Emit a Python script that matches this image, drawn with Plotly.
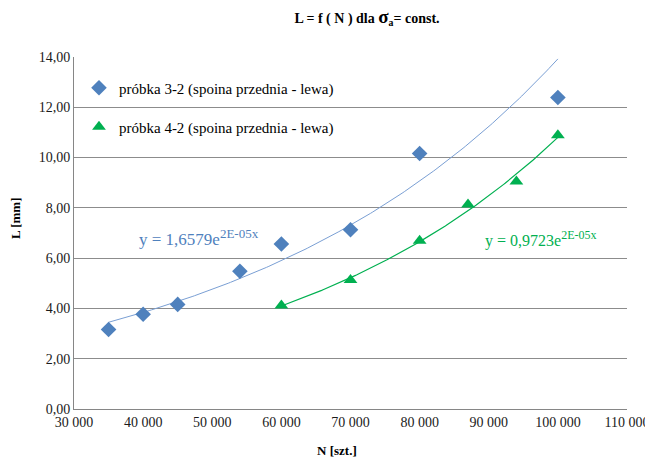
import numpy as np
import plotly.graph_objects as go

# ---- data ----
n_blue = [35000, 40000, 45000, 54000, 60000, 70000, 80000, 100000]
l_blue = [3.16, 3.77, 4.16, 5.48, 6.56, 7.13, 10.16, 12.39]
n_green = [60000, 70000, 80000, 87000, 94000, 100000]
l_green = [4.12, 5.13, 6.69, 8.13, 9.05, 10.89]
name_blue = "próbka 3-2 (spoina przednia - lewa)"
name_green = "próbka 4-2 (spoina przednia - lewa)"
eq_blue = "y = 1,6579e<sup><span style='font-size:13px'>2E-05x</span></sup>"
eq_green = "y = 0,9723e<sup><span style='font-size:12px'>2E-05x</span></sup>"

BLUE = "#4F81BD"
GREEN = "#00B050"
FONT = "Liberation Serif"

# page body has an 8px margin; figure is sized/placed to compensate
W, H = 645, 451
OFF = 8


def exp_trend(xs, ys):
    b, ln_a = np.polyfit(np.array(xs, float), np.log(np.array(ys, float)), 1)
    xx = np.linspace(min(xs), max(xs), 200)
    return xx, np.exp(ln_a) * np.exp(b * xx)


fig = go.Figure()
tx, ty = exp_trend(n_blue, l_blue)
fig.add_trace(go.Scatter(x=tx, y=ty, mode="lines", line=dict(color="#7A9FD4", width=1),
                         showlegend=False, hoverinfo="skip"))
tx, ty = exp_trend(n_green, l_green)
fig.add_trace(go.Scatter(x=tx, y=ty, mode="lines", line=dict(color=GREEN, width=1.2),
                         showlegend=False, hoverinfo="skip"))
fig.add_trace(go.Scatter(x=n_blue, y=l_blue, mode="markers", name=name_blue,
                         marker=dict(symbol="diamond", size=12, color=BLUE), legend="legend"))
fig.add_trace(go.Scatter(x=n_green, y=l_green, mode="markers", name=name_green,
                         marker=dict(symbol="triangle-up", size=12, color=GREEN), legend="legend2"))

fig.update_layout(
    width=W, height=H,
    margin=dict(l=74 - OFF, r=26, t=57 - OFF, b=50),
    paper_bgcolor="white", plot_bgcolor="white",
    separators=", ",
    font=dict(family=FONT, size=13, color="#1a1a1a"),
    title=dict(
        text="<b>L = f ( N ) dla <span style='font-size:19px'>σ</span><sub>a</sub>= const.</b>",
        x=(367 - OFF) / W, xanchor="center", y=1 - (18 - OFF) / H, yanchor="middle",
        font=dict(family=FONT, size=14, color="#000"),
    ),
    xaxis=dict(
        range=[30000, 110000], dtick=10000, tickformat=",d", automargin=False,
        showgrid=False, zeroline=False,
        showline=True, linecolor="#868686", linewidth=1,
        ticks="", tickfont=dict(family=FONT, size=14, color="#1a1a1a"),
    ),
    yaxis=dict(
        range=[0, 14], dtick=2, tickformat=".2f", automargin=False,
        showgrid=True, gridcolor="#8c8c8c", gridwidth=1, zeroline=False,
        showline=True, linecolor="#868686", linewidth=1,
        ticks="", tickfont=dict(family=FONT, size=14, color="#1a1a1a"),
    ),
    legend=dict(x=0.009, y=(409 - 88) / 352, xanchor="left", yanchor="middle",
                bgcolor="rgba(255,255,255,0)", font=dict(family=FONT, size=15, color="#000")),
    legend2=dict(x=0.009, y=(409 - 127) / 352, xanchor="left", yanchor="middle",
                 bgcolor="rgba(255,255,255,0)", font=dict(family=FONT, size=15, color="#000")),
    annotations=[
        dict(text=eq_blue, xref="paper", yref="paper", x=(137 - 74) / 553, y=(409 - 237) / 352,
             xanchor="left", yanchor="middle",
             showarrow=False, font=dict(family=FONT, size=17, color=BLUE)),
        dict(text=eq_green, xref="paper", yref="paper", x=(483 - 74) / 553, y=(409 - 239) / 352,
             xanchor="left", yanchor="middle",
             showarrow=False, font=dict(family=FONT, size=16, color=GREEN)),
        # axis titles
        dict(text="<b>N [szt.]</b>", xref="paper", yref="paper",
             x=(337 - 74) / 553, y=(409 - 450) / 352, xanchor="center", yanchor="middle",
             showarrow=False, font=dict(family=FONT, size=13, color="#000")),
        dict(text="<b>L [mm]</b>", xref="paper", yref="paper", textangle=-90,
             x=(15 - 74) / 553, y=(409 - 218) / 352, xanchor="center", yanchor="middle",
             showarrow=False, font=dict(family=FONT, size=13, color="#000")),
    ],
)

fig.write_html("out.html")
